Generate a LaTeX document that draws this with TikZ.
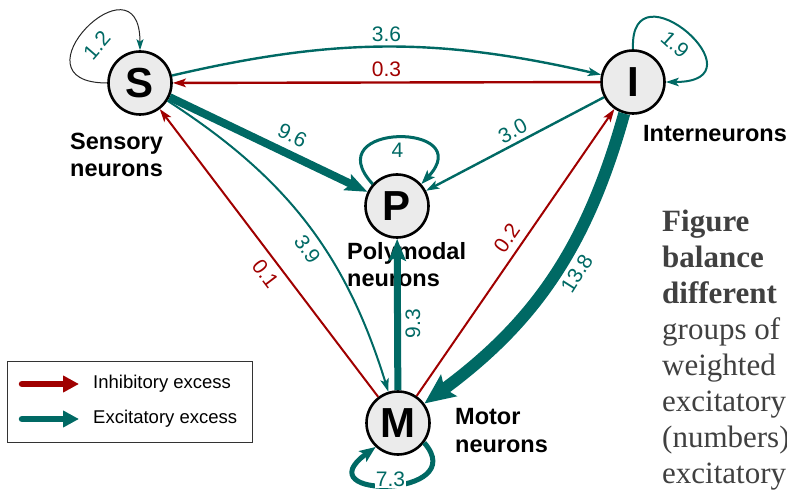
\documentclass[tikz,border=0pt]{standalone}
\usepackage{fontspec}
\setmainfont{Liberation Sans}
\newfontfamily\capfont{Liberation Serif}
\usetikzlibrary{arrows.meta,positioning}
\definecolor{exc}{RGB}{0,105,100}
\definecolor{inh}{RGB}{160,0,0}
\definecolor{cellfill}{RGB}{235,235,235}
\definecolor{capgray}{RGB}{64,64,64}

\begin{document}
\begin{tikzpicture}[x=1pt, y=-1pt,
  neuron/.style={circle, draw, line width=2.6pt, fill=cellfill, minimum size=63pt, inner sep=0pt,
    font=\fontsize{42}{42}\selectfont\bfseries},
  group/.style={align=left, anchor=base west, inner sep=0pt, font=\fontsize{23.5}{27.5}\selectfont\bfseries},
  wt/.style={font=\fontsize{21}{21}\selectfont, inner sep=2pt},
  excit/.style={draw=exc, text=exc},
  inhib/.style={draw=inh, text=inh},
  tipS/.style={-{Stealth[length=13pt, width=8.5pt, inset=3pt]}},
  tipP/.style={-{Stealth[length=14pt, width=10pt, inset=3pt]}},
  tipM/.style={-{Stealth[length=16pt, width=13pt, inset=3.5pt]}},
  tipL/.style={-{Stealth[length=22pt, width=17pt, inset=4pt]}},
  tipXL/.style={-{Stealth[length=30pt, width=26pt, inset=5pt]}},
  keyarrow/.style={line width=6.5pt, line cap=round, -{Triangle[length=16pt, width=16pt]}},
  keytext/.style={inner sep=0pt, anchor=west, font=\fontsize{18.5}{18.5}\selectfont}]
\useasboundingbox (0,0) rectangle (787,494);

\node[neuron] (S) at (140,83) {S};
\node[neuron] (I) at (633,82) {I};
\node[neuron] (P) at (397,206) {P};
\node[neuron] (M) at (398,423) {M};

\node[group] (Slab) at (70,177) {Sensory\\neurons};
\node[group] (Ilab) at (643,142) {Interneurons};
\node[group] (Plab) at (347,287) {Polymodal\\neurons};
\node[group] (Mlab) at (455,452) {Motor\\neurons};

\draw[line width=1pt, black!85, -{Stealth[length=11pt, width=7pt, inset=2.5pt, color=exc]}]
  (S.west) .. controls +(-100,0) and +(0,-100) .. node[wt, text=exc, sloped, below=9pt, pos=0.47] {1.2} (S.north);
\draw[excit, line width=2.4pt, tipS] (S) to[bend left=13] node[wt, above=2pt] {3.6} (I);
\draw[inhib, line width=2.4pt, tipS] (I) -- node[wt, above=3pt] {0.3} (S);
\draw[excit, line width=8pt, tipL] (S) -- node[wt, sloped, above=5pt, pos=0.58] {9.6} (P);
\draw[excit, line width=2pt, tipS] (S) to[bend left=20] node[wt, sloped, below=4pt, pos=0.56] {3.9} (M);
\draw[inhib, line width=2pt, tipS] (M) -- node[wt, sloped, below=5pt, pos=0.46] {0.1} (S);
\draw[excit, line width=2pt, tipS]
  (I.north) .. controls +(-4,-89) and +(102,0) .. node[wt, sloped, below=6pt, pos=0.5] {1.9} (I.east);
\draw[excit, line width=3pt, tipP]
  (P.138) .. controls +(-57,-62) and +(58,-62) .. node[wt, below=2pt, pos=0.5] {4} (P.42);
\draw[excit, line width=2.4pt, tipS] (I) -- node[wt, sloped, above=2pt, pos=0.48] {3.0} (P);
\draw[inhib, line width=2pt, tipS] (M) -- node[wt, sloped, above=5pt, pos=0.52] {0.2} (I);
\draw[excit, line width=12pt, tipXL] (I) to[bend left=19] node[wt, sloped, below=3pt, pos=0.45] {13.8} (M);
\draw[excit, line width=7pt, tipL] (M) -- node[wt, rotate=90, anchor=north, outer sep=6pt, pos=0.44] {9.3} (P);
\draw[excit, line width=5pt, tipM]
  (M.-37) .. controls +(48,55) and +(-73,53) .. node[wt, fill=white, inner sep=1pt, yshift=6pt, pos=0.5] {7.3} (M.-133);

\node[draw=black!80, line width=1pt, minimum width=245pt, minimum height=81pt, anchor=north west, inner sep=0pt] (key) at (7,361) {};
\coordinate (ki0) at (22,384);
\coordinate (ki1) at (79,384);
\coordinate (ke0) at (22,419);
\coordinate (ke1) at (79,419);
\draw[inh, keyarrow] (ki0) -- (ki1);
\draw[exc, keyarrow] (ke0) -- (ke1);
\node[keytext, right=14pt of ki1] {Inhibitory excess};
\node[keytext, right=14pt of ke1] {Excitatory excess};

\node[anchor=base west, inner sep=0pt, align=left, text=capgray, font=\capfont\fontsize{31}{36}\selectfont] (cap) at (662,483)
  {\textbf{Figure}\\\textbf{balance}\\\textbf{different}\\groups of\\weighted\\excitatory\\(numbers)\\excitatory};
\end{tikzpicture}
\end{document}
